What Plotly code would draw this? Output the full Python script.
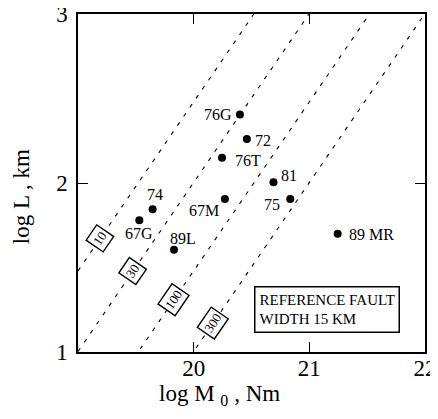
import numpy as np
import plotly.graph_objects as go

# ---- data ----
event_names = ["76G", "72", "76T", "81", "75", "67M", "74", "67G", "89L", "89 MR"]
log_m0 = [20.40, 20.46, 20.245, 20.69, 20.835, 20.27, 19.645, 19.53, 19.83, 21.245]
log_l = [2.405, 2.26, 2.15, 2.005, 1.905, 1.905, 1.845, 1.78, 1.605, 1.70]

stress_drops = [10, 30, 100, 300]          # bars, labels on the dashed lines
line_label_logl = [1.673, 1.477, 1.306, 1.17]  # where the label boxes sit along each line
C_OFFSET = 16.52   # log L = log M0 - C_OFFSET - log(stress drop) (15 km reference width)

x_ticks = [20, 21, 22]
y_ticks = [1, 2, 3]

# label offsets (px): xanchor, xshift, yshift
label_style = [
    ("right", -6, 0), ("left", 6, -1), ("left", 11, -3), ("left", 6, 7),
    ("right", -8, -5), ("right", -4, -11), ("center", 2, 15), ("center", 0, -13),
    ("center", 9, 11), ("left", 9, -1),
]

SERIF = "Liberation Serif"
fig = go.Figure()

xr = [19.0, 22.0]
for ds in stress_drops:
    xs = np.array(xr)
    ys = xs - C_OFFSET - np.log10(ds)
    fig.add_trace(go.Scatter(x=xs, y=ys, mode="lines",
                             line=dict(color="black", width=1.1, dash="4px,7px"),
                             hoverinfo="skip", showlegend=False))

fig.add_trace(go.Scatter(x=log_m0, y=log_l, mode="markers",
                         marker=dict(color="black", size=8),
                         showlegend=False))

ann = []
for name, x, y, (xa, xs_, ys_) in zip(event_names, log_m0, log_l, label_style):
    ann.append(dict(x=x, y=y, text=name, showarrow=False, xanchor=xa, yanchor="middle",
                    xshift=xs_, yshift=ys_, font=dict(family=SERIF, size=16, color="black")))

for ds, yl in zip(stress_drops, line_label_logl):
    xl = yl + C_OFFSET + np.log10(ds)
    ann.append(dict(x=xl, y=yl, text=str(ds), showarrow=False, textangle=-55.5,
                    bgcolor="white", bordercolor="black", borderwidth=1.4, borderpad=2,
                    font=dict(family=SERIF, size=13, color="black")))

ann.append(dict(xref="paper", yref="paper", x=0.508, y=0.194, xanchor="left", yanchor="top",
                text="REFERENCE FAULT<br>WIDTH 15 KM", align="left", showarrow=False,
                bgcolor="white", bordercolor="black", borderwidth=1.5, borderpad=4,
                font=dict(family=SERIF, size=15, color="black")))

ann.append(dict(xref="paper", yref="paper", x=0.409, y=-0.127, xanchor="center", yanchor="middle",
                text="log M <sub>0</sub> , Nm", showarrow=False,
                font=dict(family=SERIF, size=23, color="black")))
ann.append(dict(xref="paper", yref="paper", x=-0.161, y=0.4586, xanchor="center", yanchor="middle",
                text="log L , km", textangle=-90, showarrow=False,
                font=dict(family=SERIF, size=23, color="black")))

axis_common = dict(showgrid=False, zeroline=False, showline=True, linecolor="black",
                   linewidth=1.5, mirror="allticks", ticks="inside", ticklen=10,
                   tickwidth=1.3, tickcolor="black", automargin=False,
                   ticklabeloverflow="allow",
                   tickfont=dict(family=SERIF, size=23, color="black"))

# the page body adds an 8 px offset; the figure is sized/margined to compensate
fig.update_layout(
    width=430, height=403,
    margin=dict(l=70, r=13, t=6, b=59, autoexpand=False),
    plot_bgcolor="white", paper_bgcolor="white",
    xaxis=dict(range=xr, tickvals=x_ticks, ticklabelstandoff=-5, **axis_common),
    yaxis=dict(range=[1, 3], tickvals=y_ticks, ticklabelstandoff=4, **axis_common),
    annotations=ann,
)

fig.write_html("out.html")
